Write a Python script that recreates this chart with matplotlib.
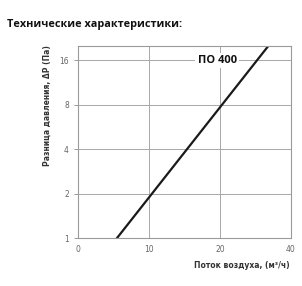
import numpy as np
import matplotlib.pyplot as plt

# Pressure curve
flow = [5.5, 26.8]        # m3/h
dp = [1.0, 20.0]          # Pa
x_ticks = [0, 10, 20, 30]
x_labels = ["0", "10", "20", "40"]
y_ticks = [1, 2, 4, 8, 16]

fig = plt.figure(figsize=(3.02, 2.86), dpi=100)
ax = fig.add_axes([78/302, 48/286, 213/302, 192/286])

ax.plot(flow, dp, color="#1a1a1a", linewidth=1.6)
ax.set_yscale("log", base=2)
ax.set_xlim(0, 30)
ax.set_ylim(1, 20)
ax.set_xticks(x_ticks)
ax.set_xticklabels(x_labels)
ax.set_yticks(y_ticks)
ax.set_yticklabels([str(v) for v in y_ticks])
ax.minorticks_off()
ax.grid(True, color="#a8a8a8", linewidth=0.7)
for s in ax.spines.values():
    s.set_color("#9a9a9a")
    s.set_linewidth(0.8)
ax.tick_params(axis="both", labelsize=5.5, labelcolor="#666666", color="#9a9a9a", length=3, width=0.7)
ax.tick_params(axis="x", length=0, pad=5)

ax.text(19.6, 16, "ПО 400", fontsize=8, fontweight="bold", family="Open Sans",
        ha="center", va="center", color="#111111",
        bbox=dict(facecolor="white", edgecolor="none", pad=1.5))

fig.text(7/302, 1 - 25/286, "Технические характеристики:", fontsize=7.8,
         fontweight="bold", family="Open Sans", va="center", ha="left", color="#111111")
fig.text(47/302, 1 - 45/286, "Разница давления, ΔP (Па)", rotation=90, fontsize=5.5,
         fontweight="bold", va="top", ha="center", color="#333333")
fig.text(290/302, 1 - 265/286, "Поток воздуха, (м³/ч)", fontsize=5.5,
         fontweight="bold", va="center", ha="right", color="#333333")

fig.savefig("out.png", dpi=100)
